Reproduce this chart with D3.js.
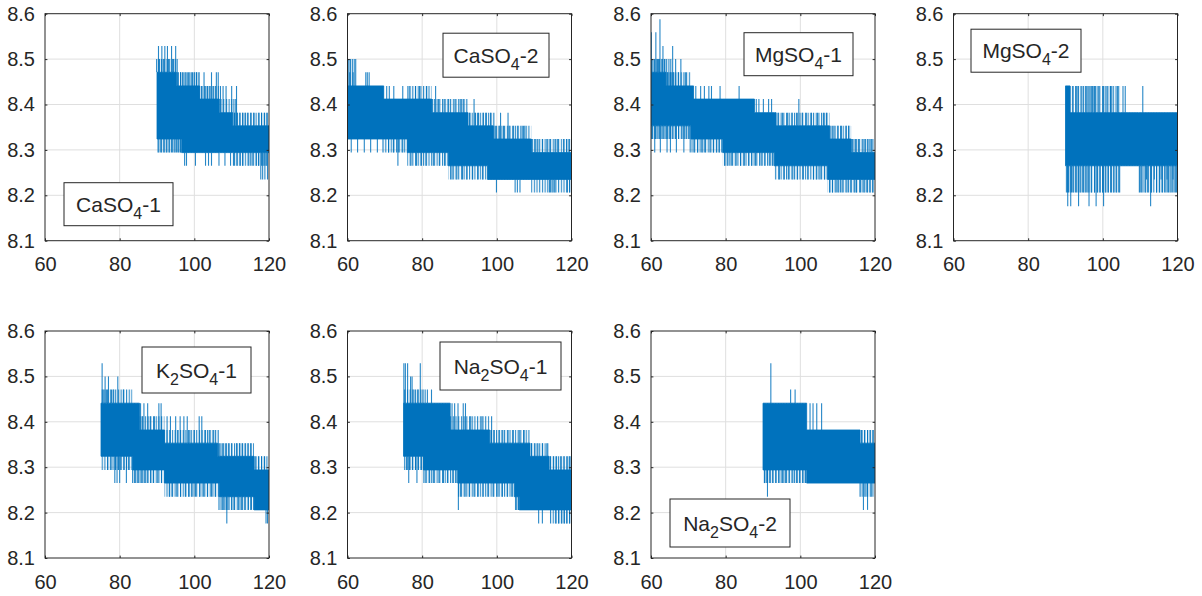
<!DOCTYPE html>
<html><head><meta charset="utf-8">
<script src="https://cdn.jsdelivr.net/npm/d3@7/dist/d3.min.js"></script>
<style>
body{margin:0;background:#fff}
svg{display:block}
text{font-family:"Liberation Sans",Arial,Helvetica,sans-serif;fill:#262626}
</style>
</head><body>
<svg id="chart" width="1202" height="596"></svg>
<script>
// ---------- axis ticks ----------
const xTicks = [60, 80, 100, 120];
const yTicks = [8.1, 8.2, 8.3, 8.4, 8.5, 8.6];
const xDomain = [60, 120];
const yDomain = [8.1, 8.6];

// ---------- panel labels ----------
const labels = ["CaSO_4-1", "CaSO_4-2", "MgSO_4-1", "MgSO_4-2", "K_2SO_4-1", "Na_2SO_4-1", "Na_2SO_4-2"];

// ---------- CaSO4-1 ----------
const caso4_1_bandX    = [90, 95.2, 96.6, 101.4, 106.7, 110.3, 120];
const caso4_1_bandLo   = [8.324, 8.324, 8.294, 8.294, 8.294, 8.294, 8.294];
const caso4_1_bandHi   = [8.471, 8.441, 8.441, 8.412, 8.382, 8.353, 8.353];
const caso4_1_fringeLo = [8.294, 8.294, 8.294, 8.294, 8.294, 8.265, 8.265];
const caso4_1_fringeHi = [8.500, 8.471, 8.471, 8.441, 8.412, 8.382, 8.382];
const caso4_1_spikes = [
 [89.9,8.500],[90.4,8.529],[90.7,8.500],[91.3,8.529],[91.7,8.500],[92.1,8.529],[92.8,8.529],[93.1,8.500],[93.9,8.529],[94.4,8.500],[95.0,8.529],[95.4,8.500],
 [95.7,8.471],[96.3,8.471],[96.8,8.471],[97.5,8.471],[98.1,8.471],[98.8,8.471],[99.5,8.471],[100.1,8.471],[100.6,8.471],[101.2,8.471],[102.6,8.471],[104.6,8.471],[105.9,8.471],[106.4,8.471],
 [101.9,8.441],[102.9,8.441],[103.4,8.441],[104.0,8.441],[105.2,8.441],[107.0,8.441],[107.7,8.441],[108.5,8.441],[110.0,8.441],[111.3,8.441],
 [110.6,8.412],[111.1,8.412],
 [110.8,8.382],[111.5,8.382],[112.2,8.382],[113.0,8.382],[113.6,8.382],[114.3,8.382],[115.2,8.382],[116.0,8.382],[117.3,8.382],[118.0,8.382],[118.8,8.382],[119.5,8.382],
 [90.3,8.294],[91.0,8.294],[91.8,8.294],[92.5,8.294],[93.2,8.294],[93.9,8.294],[94.6,8.294],[95.2,8.294],[95.8,8.294],[96.2,8.294],
 [97.4,8.265],[97.9,8.265],[100.3,8.265],[103.0,8.265],[103.8,8.265],[104.6,8.265],[106.6,8.265],[108.2,8.265],[109.7,8.265],[110.5,8.265],[111.4,8.265],[112.3,8.265],[113.0,8.265],[114.6,8.265],[115.5,8.265],[116.6,8.265],[117.2,8.265],[118.4,8.265],[119.2,8.265],
 [117.8,8.235],[118.3,8.235],[118.9,8.235],[119.6,8.235]
];

// ---------- CaSO4-2 ----------
const caso4_2_bandX    = [60, 69.7, 76, 82.5, 87, 92.3, 97.5, 99.0, 109.2, 120];
const caso4_2_bandLo   = [8.324, 8.324, 8.294, 8.294, 8.265, 8.265, 8.235, 8.235, 8.235, 8.235];
const caso4_2_bandHi   = [8.441, 8.412, 8.412, 8.382, 8.382, 8.353, 8.353, 8.324, 8.294, 8.294];
const caso4_2_fringeLo = [8.324, 8.294, 8.265, 8.265, 8.235, 8.235, 8.235, 8.235, 8.206, 8.206];
const caso4_2_fringeHi = [8.441, 8.412, 8.441, 8.412, 8.412, 8.382, 8.382, 8.353, 8.324, 8.324];
const caso4_2_spikes = [
 [60.1,8.500],[60.4,8.500],[60.8,8.500],[61.3,8.500],[61.8,8.500],[62.2,8.500],
 [60.6,8.471],[61.5,8.471],[64.9,8.471],[65.3,8.471],[65.8,8.471],
 [70.5,8.441],[71.2,8.441],[72.4,8.441],[74.8,8.441],[76.5,8.441],[78.2,8.441],[79.3,8.441],[81.2,8.441],[83.6,8.441],
 [82.8,8.412],[84.4,8.412],[85.9,8.412],[87.1,8.412],[88.8,8.412],[90.2,8.412],[91.0,8.412],[93.9,8.412],
 [92.8,8.382],[94.3,8.382],[95.1,8.382],[96.4,8.382],[97.2,8.382],[98.3,8.382],[99.2,8.382],[101.0,8.382],[103.0,8.382],
 [99.6,8.353],[100.6,8.353],[101.8,8.353],[103.3,8.353],[104.5,8.353],[105.6,8.353],[106.8,8.353],[107.5,8.353],
 [109.5,8.324],[110.3,8.324],[111.0,8.324],[112.2,8.324],[113.4,8.324],[114.2,8.324],[115.6,8.324],[116.3,8.324],[117.9,8.324],[118.7,8.324],[119.3,8.324],
 [61.0,8.294],[62.7,8.294],[64.5,8.294],[66.2,8.294],[68.0,8.294],[69.5,8.294],[71.0,8.294],[72.3,8.294],[73.6,8.294],[74.8,8.294],
 [73.5,8.265],[77.0,8.265],[78.5,8.265],[79.8,8.265],[81.0,8.265],[83.0,8.265],[84.6,8.265],[86.0,8.265],
 [88.0,8.235],[89.3,8.235],[90.8,8.235],[92.0,8.235],[93.5,8.235],[95.0,8.235],[96.2,8.235],
 [99.9,8.206],[104.9,8.206],[105.5,8.206],[106.2,8.206],[114.1,8.206],[114.8,8.206],[115.5,8.206],[118.9,8.206],[119.5,8.206]
];

// ---------- MgSO4-1 ----------
const mgso4_1_bandX    = [60, 64.0, 70.7, 71.4, 79.2, 87.7, 93.0, 93.5, 107.3, 107.8, 113.6, 120];
const mgso4_1_bandLo   = [8.353, 8.353, 8.324, 8.324, 8.294, 8.294, 8.265, 8.265, 8.235, 8.235, 8.235, 8.235];
const mgso4_1_bandHi   = [8.471, 8.441, 8.441, 8.412, 8.412, 8.382, 8.382, 8.353, 8.353, 8.324, 8.294, 8.294];
const mgso4_1_fringeLo = [8.324, 8.324, 8.294, 8.294, 8.265, 8.265, 8.235, 8.235, 8.206, 8.206, 8.206, 8.206];
const mgso4_1_fringeHi = [8.500, 8.471, 8.441, 8.412, 8.412, 8.382, 8.382, 8.382, 8.382, 8.353, 8.324, 8.324];
const mgso4_1_spikes = [
 [62.4,8.588],[60.1,8.559],[61.3,8.559],[63.2,8.529],[65.8,8.529],
 [60.5,8.500],[61.0,8.500],[61.7,8.500],[62.0,8.500],[62.9,8.500],[63.6,8.500],[64.2,8.500],[64.8,8.500],[65.3,8.500],[66.6,8.500],[68.0,8.500],
 [64.5,8.471],[65.1,8.471],[65.6,8.471],[66.1,8.471],[67.3,8.471],[69.2,8.471],
 [72.0,8.441],[73.3,8.441],[74.3,8.441],[75.5,8.441],[76.2,8.441],[78.5,8.441],[83.6,8.441],
 [88.2,8.412],[88.9,8.412],[90.1,8.412],[91.5,8.412],[92.3,8.412],[99.6,8.412],
 [94.0,8.382],[95.2,8.382],[96.6,8.382],[97.8,8.382],[99.0,8.382],[100.5,8.382],[101.6,8.382],[103.0,8.382],[104.6,8.382],[106.2,8.382],[107.0,8.382],
 [108.2,8.353],[109.0,8.353],[110.1,8.353],[111.0,8.353],[112.3,8.353],[113.0,8.353],
 [114.0,8.324],[114.8,8.324],[115.6,8.324],[116.8,8.324],[117.5,8.324],[118.4,8.324],[119.1,8.324],
 [60.4,8.324],[61.2,8.324],[61.9,8.324],[62.7,8.324],[63.4,8.324],[64.1,8.324],[64.9,8.324],[65.7,8.324],[66.5,8.324],[67.4,8.324],[68.3,8.324],[69.1,8.324],[70.0,8.324],
 [61.0,8.294],[62.5,8.294],[64.3,8.294],[65.2,8.294],[66.8,8.294],[68.8,8.294],[70.5,8.294],[71.5,8.294],[72.5,8.294],[73.6,8.294],[74.4,8.294],[75.8,8.294],[76.7,8.294],[77.6,8.294],[78.3,8.294],
 [79.8,8.265],[80.6,8.265],[81.5,8.265],[82.8,8.265],[84.0,8.265],[85.0,8.265],[86.2,8.265],[87.0,8.265],[88.0,8.265],[89.5,8.265],[90.5,8.265],[91.7,8.265],[92.5,8.265],
 [94.4,8.235],[95.7,8.235],[96.8,8.235],[98.0,8.235],[99.2,8.235],[100.8,8.235],[102.0,8.235],[103.5,8.235],[104.4,8.235],[105.3,8.235],[106.5,8.235],
 [107.9,8.206],[108.6,8.206],[109.6,8.206],[110.3,8.206],[111.2,8.206],[112.5,8.206],[113.5,8.206],[114.6,8.206],[115.0,8.206],[116.1,8.206],[117.0,8.206],[117.8,8.206],[118.6,8.206],[119.4,8.206]
];

// ---------- MgSO4-2 ----------
const mgso4_2_bandX    = [90, 91.2, 104.8, 109.6, 120];
const mgso4_2_bandLo   = [8.265, 8.265, 8.265, 8.265, 8.265];
const mgso4_2_bandHi   = [8.441, 8.382, 8.382, 8.382, 8.382];
const mgso4_2_fringeLo = [8.206, 8.206, 8.265, 8.206, 8.206];
const mgso4_2_fringeHi = [8.441, 8.441, 8.382, 8.382, 8.382];
const mgso4_2_spikes = [
 [92.0,8.441],[93.0,8.441],[93.4,8.441],[94.4,8.441],[95.4,8.441],[96.0,8.441],[96.6,8.441],[97.2,8.441],[97.6,8.441],[98.0,8.441],[98.9,8.441],[100.2,8.441],[101.1,8.441],[102.0,8.441],[102.4,8.441],[103.9,8.441],[105.4,8.441],[106.0,8.441],[110.7,8.441],
 [111.7,8.235],[113.8,8.235],[115.6,8.235],[117.2,8.235],[118.8,8.235],
 [90.3,8.206],[90.8,8.206],[91.6,8.206],[92.2,8.206],[93.0,8.206],[93.9,8.206],[94.6,8.206],[95.3,8.206],[96.0,8.206],[96.9,8.206],[97.8,8.206],[98.6,8.206],[99.3,8.206],[100.0,8.206],[100.8,8.206],[101.5,8.206],[102.3,8.206],[103.0,8.206],[103.7,8.206],[104.5,8.206],
 [109.8,8.206],[110.4,8.206],[111.3,8.206],[112.0,8.206],[113.0,8.206],[114.4,8.206],[115.2,8.206],[116.0,8.206],[116.9,8.206],[117.6,8.206],[118.3,8.206],[119.1,8.206],[119.7,8.206],
 [90.6,8.176],[91.4,8.176],[93.5,8.176],[96.3,8.176],[98.2,8.176],[100.2,8.176],[112.8,8.176]
];

// ---------- K2SO4-1 ----------
const k2so4_1_bandX    = [75, 83.4, 85.3, 92.0, 106.2, 106.7, 116.0, 120];
const k2so4_1_bandLo   = [8.324, 8.294, 8.294, 8.265, 8.265, 8.235, 8.206, 8.206];
const k2so4_1_bandHi   = [8.441, 8.441, 8.382, 8.353, 8.324, 8.324, 8.294, 8.294];
const k2so4_1_fringeLo = [8.294, 8.265, 8.265, 8.235, 8.235, 8.206, 8.206, 8.206];
const k2so4_1_fringeHi = [8.471, 8.441, 8.412, 8.382, 8.353, 8.353, 8.324, 8.324];
const k2so4_1_spikes = [
 [75.3,8.529],[76.1,8.500],[77.0,8.500],[79.5,8.500],
 [75.6,8.471],[76.5,8.471],[77.8,8.471],[78.4,8.471],[81.0,8.471],
 [85.6,8.441],[86.5,8.441],[87.5,8.441],[90.5,8.441],[91.1,8.441],
 [86.0,8.412],[88.2,8.412],[89.3,8.412],[92.7,8.412],[93.6,8.412],[95.0,8.412],[96.2,8.412],[97.2,8.412],[98.1,8.412],[101.3,8.412],[102.0,8.412],
 [95.6,8.382],[98.8,8.382],[100.0,8.382],[103.0,8.382],[104.0,8.382],[105.2,8.382],[106.4,8.382],
 [106.8,8.353],[107.6,8.353],[108.4,8.353],[109.2,8.353],[110.0,8.353],[111.3,8.353],[112.1,8.353],[112.8,8.353],[113.6,8.353],[114.4,8.353],[115.2,8.353],
 [116.3,8.324],[117.2,8.324],[118.0,8.324],[118.8,8.324],
 [76.8,8.294],[77.7,8.294],[78.8,8.294],[79.6,8.294],[80.3,8.294],[81.2,8.294],[82.4,8.294],
 [78.7,8.265],[79.3,8.265],[80.0,8.265],[81.8,8.265],[83.5,8.265],[84.3,8.265],[85.0,8.265],[85.8,8.265],[86.6,8.265],[87.4,8.265],[88.3,8.265],[89.0,8.265],[90.2,8.265],[91.2,8.265],
 [93.3,8.235],[94.0,8.235],[95.3,8.235],[96.3,8.235],[97.6,8.235],[98.6,8.235],[99.4,8.235],[100.3,8.235],[101.5,8.235],[102.5,8.235],[103.5,8.235],[104.6,8.235],[105.6,8.235],
 [106.6,8.206],[107.5,8.206],[108.2,8.206],[109.0,8.206],[110.0,8.206],[110.6,8.206],[111.8,8.206],[112.6,8.206],[113.5,8.206],[114.5,8.206],[115.3,8.206],
 [108.7,8.176],[119.2,8.176],[119.6,8.176]
];

// ---------- Na2SO4-1 ----------
const na2so4_1_bandX    = [75, 80.3, 87.5, 89.5, 98.1, 104.7, 106.0, 108.9, 114.0, 120];
const na2so4_1_bandLo   = [8.324, 8.294, 8.294, 8.265, 8.265, 8.235, 8.206, 8.206, 8.206, 8.206];
const na2so4_1_bandHi   = [8.441, 8.441, 8.382, 8.382, 8.353, 8.353, 8.353, 8.324, 8.294, 8.294];
const na2so4_1_fringeLo = [8.294, 8.265, 8.265, 8.235, 8.235, 8.206, 8.206, 8.206, 8.176, 8.176];
const na2so4_1_fringeHi = [8.471, 8.441, 8.412, 8.412, 8.382, 8.382, 8.382, 8.353, 8.324, 8.324];
const na2so4_1_spikes = [
 [75.1,8.529],[75.5,8.529],[76.1,8.529],[79.5,8.529],
 [76.9,8.500],[77.3,8.500],
 [77.8,8.471],[78.8,8.471],[80.2,8.471],[80.8,8.471],[81.4,8.471],[82.5,8.471],
 [88.0,8.441],[88.7,8.441],[89.6,8.441],[91.0,8.441],[91.6,8.441],
 [93.0,8.412],[96.0,8.412],[98.6,8.412],
 [98.5,8.382],[99.3,8.382],[100.6,8.382],[101.6,8.382],[103.0,8.382],[104.4,8.382],[106.0,8.382],[107.3,8.382],
 [109.3,8.353],[110.2,8.353],[111.0,8.353],[112.2,8.353],[113.4,8.353],
 [114.3,8.324],[115.2,8.324],[116.0,8.324],[117.1,8.324],[118.0,8.324],[119.0,8.324],[119.6,8.324],
 [75.8,8.294],[76.6,8.294],[77.4,8.294],[78.2,8.294],[79.0,8.294],[79.8,8.294],
 [76.4,8.265],[78.6,8.265],[80.8,8.265],[82.0,8.265],[83.0,8.265],[84.5,8.265],[85.7,8.265],[86.8,8.265],[88.2,8.265],[89.0,8.265],
 [90.3,8.235],[91.5,8.235],[92.6,8.235],[93.9,8.235],[95.0,8.235],[96.3,8.235],[97.6,8.235],[99.0,8.235],[100.3,8.235],[101.5,8.235],[102.8,8.235],[104.0,8.235],
 [89.7,8.206],[105.2,8.206],[105.8,8.206],
 [111.2,8.176],[112.2,8.176],[115.8,8.176],[116.6,8.176],[117.4,8.176],[118.1,8.176],[118.8,8.176],[119.5,8.176]
];

// ---------- Na2SO4-2 ----------
const na2so4_2_bandX    = [90, 101.7, 116.0, 120];
const na2so4_2_bandLo   = [8.294, 8.265, 8.265, 8.265];
const na2so4_2_bandHi   = [8.441, 8.382, 8.353, 8.353];
const na2so4_2_fringeLo = [8.265, 8.265, 8.235, 8.235];
const na2so4_2_fringeHi = [8.441, 8.382, 8.382, 8.382];
const na2so4_2_spikes = [
 [92.1,8.529],[97.4,8.471],[98.6,8.471],
 [102.6,8.441],[103.4,8.441],[104.4,8.441],[105.7,8.441],
 [116.4,8.382],[117.2,8.382],[118.0,8.382],[118.7,8.382],[119.5,8.382],
 [90.4,8.265],[91.0,8.265],[91.8,8.265],[92.6,8.265],[93.5,8.265],[94.3,8.265],[95.2,8.265],[96.0,8.265],[97.0,8.265],[98.0,8.265],[99.0,8.265],[99.8,8.265],[100.7,8.265],[101.3,8.265],
 [91.2,8.235],[116.0,8.235],[117.6,8.235],[119.0,8.235],
 [116.9,8.206],[118.0,8.206]
];

// ---------- layout ----------
const colLeft = [45, 347.5, 651, 953.5];
const rowTop = [13.7, 331];
const plotW = 224, plotH = 227;

const panels = [
  {label: labels[0], bx: caso4_1_bandX,  lo: caso4_1_bandLo,  hi: caso4_1_bandHi,  flo: caso4_1_fringeLo,  fhi: caso4_1_fringeHi,  sp: caso4_1_spikes,  col:0, row:0, lg:[19, 169, 109, 43]},
  {label: labels[1], bx: caso4_2_bandX,  lo: caso4_2_bandLo,  hi: caso4_2_bandHi,  flo: caso4_2_fringeLo,  fhi: caso4_2_fringeHi,  sp: caso4_2_spikes,  col:1, row:0, lg:[95.5, 19.5, 106, 44]},
  {label: labels[2], bx: mgso4_1_bandX,  lo: mgso4_1_bandLo,  hi: mgso4_1_bandHi,  flo: mgso4_1_fringeLo,  fhi: mgso4_1_fringeHi,  sp: mgso4_1_spikes,  col:2, row:0, lg:[93, 19, 109, 43]},
  {label: labels[3], bx: mgso4_2_bandX,  lo: mgso4_2_bandLo,  hi: mgso4_2_bandHi,  flo: mgso4_2_fringeLo,  fhi: mgso4_2_fringeHi,  sp: mgso4_2_spikes,  col:3, row:0, lg:[17.5, 15.5, 110, 43]},
  {label: labels[4], bx: k2so4_1_bandX,  lo: k2so4_1_bandLo,  hi: k2so4_1_bandHi,  flo: k2so4_1_fringeLo,  fhi: k2so4_1_fringeHi,  sp: k2so4_1_spikes,  col:0, row:1, lg:[97, 16, 109, 46]},
  {label: labels[5], bx: na2so4_1_bandX, lo: na2so4_1_bandLo, hi: na2so4_1_bandHi, flo: na2so4_1_fringeLo, fhi: na2so4_1_fringeHi, sp: na2so4_1_spikes, col:1, row:1, lg:[92.5, 11, 121, 48]},
  {label: labels[6], bx: na2so4_2_bandX, lo: na2so4_2_bandLo, hi: na2so4_2_bandHi, flo: na2so4_2_fringeLo, fhi: na2so4_2_fringeHi, sp: na2so4_2_spikes, col:2, row:1, lg:[19, 168, 120, 48]}
];

const LINE = "#0072BD";
const AX = "#262626";
const GRID = "#dfdfdf";

const svg = d3.select("#chart");
const defs = svg.append("defs");

// vertical hatch that imitates the densely packed trace in the fringe zones
const pat = defs.append("pattern").attr("id", "hatch").attr("patternUnits", "userSpaceOnUse")
  .attr("width", 2.7).attr("height", 10);
pat.append("rect").attr("x", 0).attr("y", 0).attr("width", 1.1).attr("height", 10)
  .attr("fill", LINE).attr("fill-opacity", 0.85);

panels.forEach((p, idx) => {
  const left = colLeft[p.col], top = rowTop[p.row];
  const x = d3.scaleLinear().domain(xDomain).range([0, plotW]);
  const y = d3.scaleLinear().domain(yDomain).range([plotH, 0]);
  const g = svg.append("g").attr("transform", `translate(${left},${top})`);

  defs.append("clipPath").attr("id", "clip" + idx)
    .append("rect").attr("width", plotW).attr("height", plotH);

  // grid
  g.append("g").selectAll("line").data(xTicks.slice(1, -1)).join("line")
    .attr("x1", d => x(d)).attr("x2", d => x(d)).attr("y1", 0).attr("y2", plotH)
    .attr("stroke", GRID).attr("stroke-width", 1);
  g.append("g").selectAll("line").data(yTicks.slice(1, -1)).join("line")
    .attr("y1", d => y(d)).attr("y2", d => y(d)).attr("x1", 0).attr("x2", plotW)
    .attr("stroke", GRID).attr("stroke-width", 1);

  // data
  const dg = g.append("g").attr("clip-path", `url(#clip${idx})`);
  const rows = d3.range(p.bx.length).map(i => ({x: p.bx[i], lo: p.lo[i], hi: p.hi[i], flo: p.flo[i], fhi: p.fhi[i]}));
  const fringe = d3.area().x(d => x(d.x)).y0(d => y(d.flo)).y1(d => y(d.fhi)).curve(d3.curveStepAfter);
  dg.append("path").datum(rows).attr("d", fringe).attr("fill", "url(#hatch)");
  const area = d3.area().x(d => x(d.x)).y0(d => y(d.lo)).y1(d => y(d.hi)).curve(d3.curveStepAfter);
  dg.append("path").datum(rows).attr("d", area).attr("fill", LINE)
    .attr("stroke", LINE).attr("stroke-width", 0.8);

  const bandAt = xv => {
    let i = d3.bisectRight(p.bx, xv) - 1;
    i = Math.max(0, Math.min(p.bx.length - 2, i));
    return {lo: p.lo[i], hi: p.hi[i]};
  };
  const spikes = p.sp.map(([sx, sv]) => {
    const b = bandAt(sx);
    if (sv > b.hi) return {x: sx, v0: b.hi, v1: sv};
    if (sv < b.lo) return {x: sx, v0: b.lo, v1: sv};
    return null;
  }).filter(d => d);
  dg.append("g").selectAll("line").data(spikes).join("line")
    .attr("x1", d => x(d.x)).attr("x2", d => x(d.x))
    .attr("y1", d => y(d.v0)).attr("y2", d => y(d.v1))
    .attr("stroke", LINE).attr("stroke-width", 1.1).attr("stroke-opacity", 0.85);

  // axes
  const tk = 2.4;
  const styleAxis = sel => {
    sel.select(".domain").remove();
    sel.selectAll(".tick line").attr("stroke", AX);
    sel.selectAll("text").attr("font-size", 20).attr("fill", AX)
      .attr("font-family", '"Liberation Sans", Arial, sans-serif');
  };
  g.append("g").attr("transform", `translate(0,${plotH})`)
    .call(d3.axisBottom(x).tickValues(xTicks).tickSizeInner(-tk).tickSizeOuter(0).tickPadding(16.5).tickFormat(d3.format("d")))
    .call(styleAxis);
  g.append("g")
    .call(d3.axisLeft(y).tickValues(yTicks).tickSizeInner(-tk).tickSizeOuter(0).tickPadding(10).tickFormat(d3.format(".1f")))
    .call(styleAxis);
  g.append("g")
    .call(d3.axisTop(x).tickValues(xTicks).tickSizeInner(-tk).tickSizeOuter(0).tickFormat(""))
    .call(styleAxis);
  g.append("g").attr("transform", `translate(${plotW},0)`)
    .call(d3.axisRight(y).tickValues(yTicks).tickSizeInner(-tk).tickSizeOuter(0).tickFormat(""))
    .call(styleAxis);

  g.append("rect").attr("width", plotW).attr("height", plotH)
    .attr("fill", "none").attr("stroke", AX).attr("stroke-width", 1);

  // legend box
  const [lx, ly, lw, lh] = p.lg;
  const lg = g.append("g").attr("transform", `translate(${lx},${ly})`);
  lg.append("rect").attr("width", lw).attr("height", lh)
    .attr("fill", "#fff").attr("stroke", AX).attr("stroke-width", 1);
  const t = lg.append("text").attr("x", lw / 2).attr("y", lh / 2 + 7.5)
    .attr("text-anchor", "middle").attr("font-size", 21).attr("fill", "#000");
  const parts = p.label.split(/_(\d)/);
  parts.forEach((s, i) => {
    if (!s) return;
    if (i % 2 === 1) {
      t.append("tspan").attr("font-size", 16).attr("dy", 7).text(s);
    } else {
      const ts = t.append("tspan").text(s);
      if (i > 0) ts.attr("dy", -7);
    }
  });
});
</script>
</body></html>
